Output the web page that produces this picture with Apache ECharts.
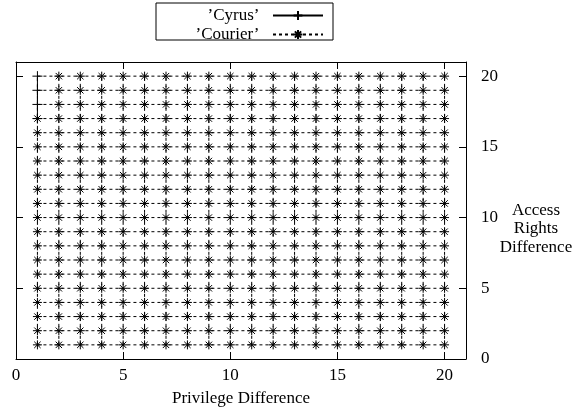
<!DOCTYPE html>
<html><head><meta charset="utf-8">
<script src="https://cdn.jsdelivr.net/npm/echarts@6/dist/echarts.min.js"></script>
<style>html,body{margin:0;padding:0;background:#fff}#c{width:584px;height:411px}</style>
</head><body><div id="c"></div>
<script>
// Data
const xValues = [1,2,3,4,5,6,7,8,9,10,11,12,13,14,15,16,17,18,19,20];
const yValues = [1,2,3,4,5,6,7,8,9,10,11,12,13,14,15,16,17,18,19,20];
const cyrusX = [1,1,1,1];
const cyrusY = [17,18,19,20];
const courierNoMark = [[1,18],[1,19],[1,20]];
const xTicks = [0,5,10,15,20];
const yTicks = [0,5,10,15,20];
const seriesNames = ['Cyrus','Courier'];

const FONT = 'Liberation Serif';
const STAR = 'path://M4.5,0L4.5,9M0,4.5L9,4.5M1.3,1.3L7.7,7.7M1.3,7.7L7.7,1.3';
const PLUS = 'path://M5,0L5,10M0,5L10,5';

function noMark(x,y){return courierNoMark.some(p=>p[0]===x&&p[1]===y);}
const courierData = [];
yValues.forEach(y=>{
  xValues.forEach(x=>{
    courierData.push(noMark(x,y)?{value:[x,y],symbol:'none'}:[x,y]);
  });
  courierData.push(['-','-']);
});
xValues.forEach(x=>{
  yValues.forEach(y=>{ courierData.push({value:[x,y],symbol:'none'}); });
  courierData.push(['-','-']);
});
const cyrusData = cyrusX.map((x,i)=>[x,cyrusY[i]]);

const axisLine = {show:true,onZero:false,lineStyle:{color:'#000',width:1}};
const tick = {show:true,inside:true,length:7,lineStyle:{color:'#000'}};

const chart = echarts.init(document.getElementById('c'));
chart.setOption({
  animation:false,
  backgroundColor:'#fff',
  grid:{left:16,right:118,top:62,bottom:52,outerBoundsMode:'none',containLabel:false},
  legend:{
    orient:'vertical', right:260, top:7, padding:0, itemGap:2,
    align:'right', itemWidth:50, itemHeight:11,
    formatter: n => "\u2019" + n + "\u2019  ",
    textStyle:{fontFamily:FONT,fontSize:17,color:'#000'},
    data:seriesNames
  },
  graphic:[
    {type:'rect',shape:{x:156,y:3,width:177,height:37},style:{fill:'none',stroke:'#000',lineWidth:1},silent:true},
    {type:'text',x:536,y:229,style:{text:'Access\nRights\nDifference',fontFamily:FONT,fontSize:17,lineHeight:18.5,fill:'#000',align:'center',verticalAlign:'middle'}}
  ],
  xAxis:[
    {type:'value',position:'bottom',min:0,max:21,interval:5,axisLine,axisTick:tick,splitLine:{show:false},
     axisLabel:{margin:8,fontFamily:FONT,fontSize:17,color:'#000',formatter:v=>(xTicks.indexOf(v)>=0?String(v):''),showMaxLabel:false},
     name:'Privilege Difference',nameLocation:'middle',nameGap:31,
     nameTextStyle:{fontFamily:FONT,fontSize:17,color:'#000'}},
    {type:'value',position:'top',min:0,max:21,interval:5,axisLine,axisTick:tick,splitLine:{show:false},axisLabel:{show:false}}
  ],
  yAxis:[
    {type:'value',position:'right',min:0,max:21,interval:5,axisLine,axisTick:tick,splitLine:{show:false},
     axisLabel:{margin:15,fontFamily:FONT,fontSize:17,color:'#000',formatter:v=>(yTicks.indexOf(v)>=0?String(v):''),showMaxLabel:false}},
    {type:'value',position:'left',min:0,max:21,interval:5,axisLine,axisTick:tick,splitLine:{show:false},axisLabel:{show:false}}
  ],
  series:[
    {name:seriesNames[0],type:'line',xAxisIndex:0,yAxisIndex:0,data:cyrusData,
     symbol:PLUS,symbolSize:10,showAllSymbol:true,
     lineStyle:{color:'#000',width:1,type:'solid'},
     itemStyle:{color:'#000',borderColor:'#000',borderWidth:1}},
    {name:seriesNames[1],type:'line',xAxisIndex:0,yAxisIndex:0,data:courierData,
     connectNulls:false,symbol:STAR,symbolSize:9,showAllSymbol:true,
     lineStyle:{color:'#000',width:1,type:[3,3]},
     itemStyle:{color:'#000',borderColor:'#000',borderWidth:1}}
  ]
});
</script></body></html>
